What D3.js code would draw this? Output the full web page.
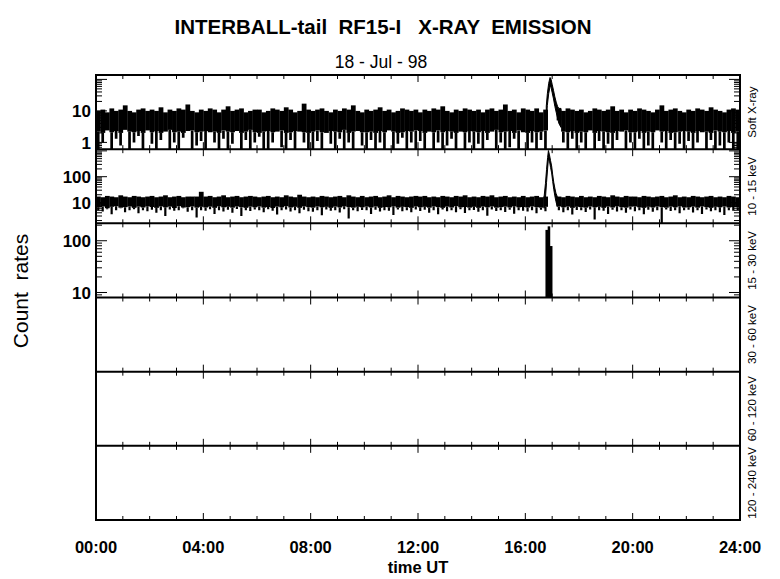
<!DOCTYPE html>
<html><head><meta charset="utf-8">
<script src="https://cdn.jsdelivr.net/npm/d3@7"></script>
<style>
body{margin:0;background:#fff}
svg{display:block}
text{font-family:"Liberation Sans",Arial,Helvetica,sans-serif;white-space:pre}
</style>
</head><body>
<svg id="c" width="780" height="579"></svg>
<script>
// ---------------- DATA ----------------
const titleText = "INTERBALL-tail  RF15-I   X-RAY  EMISSION";
const subtitleText = "18 - Jul - 98";
const yTitle = "Count  rates";
const xTitle = "time UT";
const panelLabels = ["Soft X-ray","10 - 15 keV","15 - 30 keV","30 - 60 keV","60 - 120 keV","120 - 240 keV"];
const xTickHours = [0,4,8,12,16,20,24];
const xTickLabels = ["00:00","04:00","08:00","12:00","16:00","20:00","24:00"];
const softDomain = [0.61, 138];
const hardDomain = [1.56, 1165];
const hard2Domain = [8, 217];
const softTickLabels = [1, 10];
const hardTickLabels = [10, 100];
const hard2TickLabels = [10, 100];

// Soft X-ray, 10-minute bins: upper envelope, solid-band lower edge, dip minimum
const softHi = [
10,11,9,12,10,11,15,10,9,11,12,10,
11,10,13,9,11,10,12,11,16,10,9,11,
10,12,11,9,11,14,10,11,12,9,10,11,
11,9,10,12,11,10,13,11,9,10,17,11,
10,11,12,10,9,11,10,12,11,15,10,9,
11,10,11,13,10,11,9,10,12,11,10,11,
9,11,10,12,11,14,10,9,11,10,12,11,
10,11,9,11,12,10,11,16,10,11,9,12,
11,10,12,9,11,null,null,11,10,12,11,10,
11,9,10,12,11,10,11,14,10,11,9,11,
10,12,11,10,9,11,15,10,11,12,10,9,
11,10,12,11,10,13,11,10,9,11,12,11];
const softLo = [
2.2,2.0,2.4,2.1,2.3,2.0,2.5,2.2,2.1,2.3,2.0,2.4,
2.1,2.3,2.0,2.2,2.5,2.1,2.2,2.0,2.3,2.4,2.1,2.2,
2.3,2.1,2.2,2.0,2.4,2.2,2.1,2.3,2.0,2.2,2.5,2.1,
2.0,2.2,2.3,2.1,2.2,2.4,2.0,2.1,2.3,2.2,2.1,2.0,
2.2,2.4,2.1,2.0,2.3,2.2,2.1,2.5,2.0,2.2,2.3,2.1,
2.1,2.2,2.0,2.3,2.1,2.4,2.2,2.0,2.1,2.3,2.2,2.4,
2.3,2.0,2.2,2.1,2.4,2.1,2.3,2.2,2.0,2.2,2.1,2.3,
2.2,2.1,2.3,2.0,2.2,2.5,2.1,2.2,2.3,2.0,2.4,2.1,
2.0,2.3,2.1,2.2,2.4,null,null,5,2.2,2.1,2.3,2.0,
2.2,2.1,2.4,2.0,2.3,2.2,2.1,2.0,2.3,2.2,2.4,2.1,
2.1,2.3,2.0,2.2,2.1,2.4,2.2,2.3,2.0,2.1,2.2,2.3,
2.2,2.0,2.3,2.1,2.2,2.0,2.4,2.2,2.1,2.3,2.0,2.2];
const softDip = [
0.5,1.0,2.5,0.5,1.3,0.8,2.5,0.5,1.0,1.6,0.5,2.5,
0.9,0.5,1.2,2.5,0.5,1.0,0.5,1.4,2.5,0.5,0.8,1.1,
0.5,2.5,1.0,0.5,1.3,0.5,0.9,2.5,0.5,1.2,0.5,1.0,
1.5,0.5,0.5,1.0,2.5,0.7,0.5,1.2,0.5,2.5,1.0,0.5,
0.5,1.1,0.5,2.5,0.9,0.5,1.3,0.5,1.0,0.5,2.5,0.8,
0.5,1.2,0.5,1.0,0.5,2.5,0.5,0.9,1.4,0.5,1.0,0.5,
1.1,0.5,2.5,0.5,1.0,0.5,0.8,1.3,0.5,2.5,0.5,1.0,
0.5,0.9,0.5,1.2,2.5,0.5,1.0,0.5,0.7,1.3,0.5,2.5,
0.5,1.0,0.5,1.2,0.5,null,null,5,1.0,0.5,1.3,0.5,
1.0,0.5,2.5,0.5,1.1,0.5,0.9,0.5,1.2,2.5,0.5,1.0,
0.5,1.3,0.5,0.8,0.5,2.5,1.0,0.5,1.2,0.5,0.9,0.5,
1.1,0.5,1.0,2.5,0.5,1.2,0.5,0.8,0.5,1.0,0.5,0.5];
// Soft X-ray flare (hours, upper and lower envelope)
const softFlareT  = [16.78,16.82,16.87,16.92,16.96,17.00,17.05,17.10,17.15,17.20,17.25,17.33];
const softFlareHi = [14,35,75,115,100,70,45,28,19,14,12,12];
const softFlareLo = [4,15,35,60,55,38,24,14,9,6,4,3];

// 10-15 keV, 10-minute bins
const hardHi = [
17,16,18,17,16,19,17,16,18,17,16,17,
18,16,17,19,16,17,18,16,17,17,17,26,
17,18,16,17,19,16,17,18,16,17,18,17,
16,17,18,16,17,16,19,17,16,20,17,16,
17,16,18,17,16,17,18,16,19,17,16,18,
16,17,18,16,17,19,16,18,17,16,17,18,
17,18,16,17,16,18,17,16,18,17,19,16,
17,16,18,17,19,16,17,18,16,17,16,18,
16,17,18,16,17,null,null,17,16,18,17,16,
18,16,17,16,18,17,16,19,17,16,18,17,
17,16,18,17,16,17,18,16,17,19,16,17,
16,18,17,16,17,18,16,17,16,18,17,16];
const hardLo = [
6.5,7,6,6.8,7.2,6.3,6.6,7,6.2,6.9,6.4,7.1,
6.7,6.2,7,6.5,6.9,6.1,7.2,6.4,6.6,7,6.3,6.8,
6.4,6.9,6.2,7.1,6.5,6.8,6.3,7,6.6,6.2,6.9,6.5,
7,6.3,6.7,6.1,6.9,6.5,7.2,6.4,6.8,6.2,7,6.6,
6.3,7,6.5,6.8,6.2,6.9,6.4,7.1,6.6,6.3,6.8,6.5,
6.9,6.4,7,6.2,6.7,6.5,7.1,6.3,6.8,6.6,6.2,7,
6.5,6.8,6.3,7,6.6,6.2,6.9,6.4,7.2,6.5,6.7,6.3,
6.8,6.2,6.9,6.5,7,6.3,6.6,6.9,6.4,7.1,6.5,6.7,
6.4,7,6.6,6.3,6.8,null,null,7,6.5,6.9,6.2,6.8,
6.6,6.3,7,6.5,6.8,6.2,6.9,6.4,7.1,6.6,6.3,6.9,
7,6.5,6.2,6.8,6.4,7,6.6,6.3,6.9,6.5,7.1,6.4,
6.5,6.9,6.3,7,6.6,6.2,6.8,6.5,7,6.4,6.7,6.6];
const hardDip = [
5,4.5,5.5,3.5,5,6,4.2,5,5.5,3.8,5,4.6,
5.2,4,5,3,5.4,4.8,5,6,4.4,5,2.6,5,
4.8,5.5,3.6,5,4.5,5.2,4,5.6,3,5,4.7,5.3,
5,4.2,5.5,4.8,3.4,5,5.3,4.5,5,3.8,5.2,4.6,
4.4,5,3.2,5.4,4.8,5,4.1,5.5,2.4,5,4.6,5.1,
5,3.6,5.2,4.5,5,4.8,3.3,5.3,4.6,5,4.2,5.4,
4.7,5.2,4,5,3.5,5.3,4.6,5,4.2,5.5,3.9,5,
5.1,4.4,5,3.1,5.4,4.7,5,4.3,5.2,3.7,5,4.8,
4.5,5,3.8,5.2,4.6,null,null,5,4.2,5,3.4,5.1,
5,4.3,5.4,2.2,5,4.8,3.6,5.2,4.5,5,4,5.3,
4.6,5,3.5,5.2,4.4,5,1.5,5.3,4.7,5,3.8,5,
5.2,4.1,5,3.6,5.4,4.6,5,4.2,3.3,5,4.8,5.1];
const hardFlareT  = [16.70,16.75,16.79,16.83,16.86,16.90,16.94,16.98,17.02,17.06,17.10,17.14,17.19];
const hardFlareHi = [17,55,190,550,1030,700,420,260,120,60,36,23,17];
const hardFlareLo = [6,15,60,200,500,400,230,140,65,32,18,11,7];

// 15-30 keV (5-minute bars)
const hard2T = [16.75, 16.833, 16.917];
const hard2Vals = [162, 190, 79];
const hard2Step = 5/60;

// ---------------- LAYOUT ----------------
const plotL = 96, plotR = 740, plotT = 75, plotB = 520, nPanels = 6;
const ph = (plotB - plotT) / nPanels;
const pTop = i => plotT + i * ph;
const svg = d3.select("#c");
const x = d3.scaleLinear().domain([0, 24]).range([plotL, plotR]);

const yS = [
  d3.scaleLog().domain(softDomain).range([pTop(1), pTop(0)]).clamp(true),
  d3.scaleLog().domain(hardDomain).range([pTop(2), pTop(1)]).clamp(true),
  d3.scaleLog().domain(hard2Domain).range([pTop(3), pTop(2)]).clamp(true)
];
const labelSets = [softTickLabels, hardTickLabels, hard2TickLabels];
const dipWidths = [2.7, 2.2];

const defs = svg.append("defs");
for (let i = 0; i < nPanels; i++) {
  defs.append("clipPath").attr("id", "clip" + i).append("rect")
    .attr("x", plotL).attr("y", pTop(i)).attr("width", plotR - plotL).attr("height", ph);
}

function drawBand(i, hi, lo, dip) {
  const y = yS[i];
  const g = svg.append("g").attr("clip-path", `url(#clip${i})`);
  const step = 24 / hi.length;
  const idx = d3.range(hi.length).filter(k => hi[k] != null);
  g.selectAll("rect").data(idx).join("rect")
    .attr("x", k => x(k * step))
    .attr("width", k => x((k + 1) * step) - x(k * step) + 0.3)
    .attr("y", k => y(hi[k]))
    .attr("height", k => Math.max(0, y(lo[k]) - y(hi[k])))
    .attr("fill", "#000");
  g.selectAll("line").data(idx.filter(k => dip[k] < lo[k])).join("line")
    .attr("x1", k => x((k + 0.5) * step)).attr("x2", k => x((k + 0.5) * step))
    .attr("y1", k => y(lo[k])).attr("y2", k => y(dip[k]))
    .attr("stroke", "#000").attr("stroke-width", dipWidths[i]);
  return g;
}
function drawFlare(g, i, T, hi, lo) {
  const y = yS[i];
  const pts = T.map((t, k) => ({t, hi: hi[k], lo: lo[k]}));
  g.append("path").datum(pts)
    .attr("d", d3.area().x(d => x(d.t)).y0(d => y(d.lo)).y1(d => y(d.hi)))
    .attr("fill", "#000").attr("stroke", "#000").attr("stroke-width", 1);
}

const g0 = drawBand(0, softHi, softLo, softDip);
drawFlare(g0, 0, softFlareT, softFlareHi, softFlareLo);
const g1 = drawBand(1, hardHi, hardLo, hardDip);
drawFlare(g1, 1, hardFlareT, hardFlareHi, hardFlareLo);

const g2 = svg.append("g").attr("clip-path", "url(#clip2)");
g2.selectAll("rect").data(hard2T).join("rect")
  .attr("x", t => x(t)).attr("width", t => x(t + hard2Step) - x(t) + 0.3)
  .attr("y", (t, k) => yS[2](hard2Vals[k]))
  .attr("height", (t, k) => yS[2].range()[0] - yS[2](hard2Vals[k]))
  .attr("fill", "#000");

// ---------------- AXES ----------------
const ax = svg.append("g").attr("stroke", "#000");
const hourTicks = d3.range(0, 25);
for (let i = 0; i < nPanels; i++) {
  const yt = pTop(i), yb = pTop(i + 1);
  hourTicks.forEach(h => {
    const len = h % 4 === 0 ? 7 : 4;
    const xx = x(h);
    ax.append("line").attr("x1", xx).attr("x2", xx).attr("y1", yt).attr("y2", yt + len).attr("stroke-width", 1);
    ax.append("line").attr("x1", xx).attr("x2", xx).attr("y1", yb).attr("y2", yb - len).attr("stroke-width", 1);
  });
}
yS.forEach((y, i) => {
  const ticks = y.ticks(10);
  ticks.forEach(v => {
    const major = Math.abs(Math.log10(v) - Math.round(Math.log10(v))) < 1e-9;
    const len = major ? 11 : 6;
    const yy = y(v);
    ax.append("line").attr("x1", plotL).attr("x2", plotL + len).attr("y1", yy).attr("y2", yy).attr("stroke-width", 1);
    ax.append("line").attr("x1", plotR).attr("x2", plotR - len).attr("y1", yy).attr("y2", yy).attr("stroke-width", 1);
  });
  svg.append("g").selectAll("text").data(labelSets[i]).join("text")
    .attr("x", plotL - 5).attr("y", v => y(v)).attr("dy", "0.36em")
    .attr("text-anchor", "end").attr("font-size", 17).attr("font-weight", "bold")
    .text(v => v);
});
ax.append("rect").attr("x", plotL).attr("y", plotT).attr("width", plotR - plotL).attr("height", plotB - plotT)
  .attr("fill", "none").attr("stroke-width", 2);
for (let i = 1; i < nPanels; i++) {
  ax.append("line").attr("x1", plotL).attr("x2", plotR).attr("y1", pTop(i)).attr("y2", pTop(i)).attr("stroke-width", 2);
}

// ---------------- TEXT ----------------
svg.append("g").selectAll("text").data(xTickHours).join("text")
  .attr("x", h => x(h)).attr("y", 553).attr("text-anchor", "middle")
  .attr("font-size", 16.5).attr("font-weight", "bold")
  .text((h, k) => xTickLabels[k]);
svg.append("text").attr("x", 418).attr("y", 573).attr("text-anchor", "middle")
  .attr("font-size", 16.5).attr("font-weight", "bold").text(xTitle);
svg.append("text").attr("x", 383).attr("y", 34).attr("text-anchor", "middle")
  .attr("font-size", 20.5).attr("font-weight", "bold").text(titleText);
svg.append("text").attr("x", 381).attr("y", 68).attr("text-anchor", "middle")
  .attr("font-size", 17.5).text(subtitleText);
svg.append("text").attr("transform", "translate(28,291) rotate(-90)").attr("text-anchor", "middle")
  .attr("font-size", 21).text(yTitle);
svg.append("g").selectAll("text").data(panelLabels).join("text")
  .attr("transform", (d, i) => `translate(756,${pTop(i) + ph / 2}) rotate(-90)`)
  .attr("text-anchor", "middle").attr("font-size", 11.5).text(d => d);
</script>
</body></html>
